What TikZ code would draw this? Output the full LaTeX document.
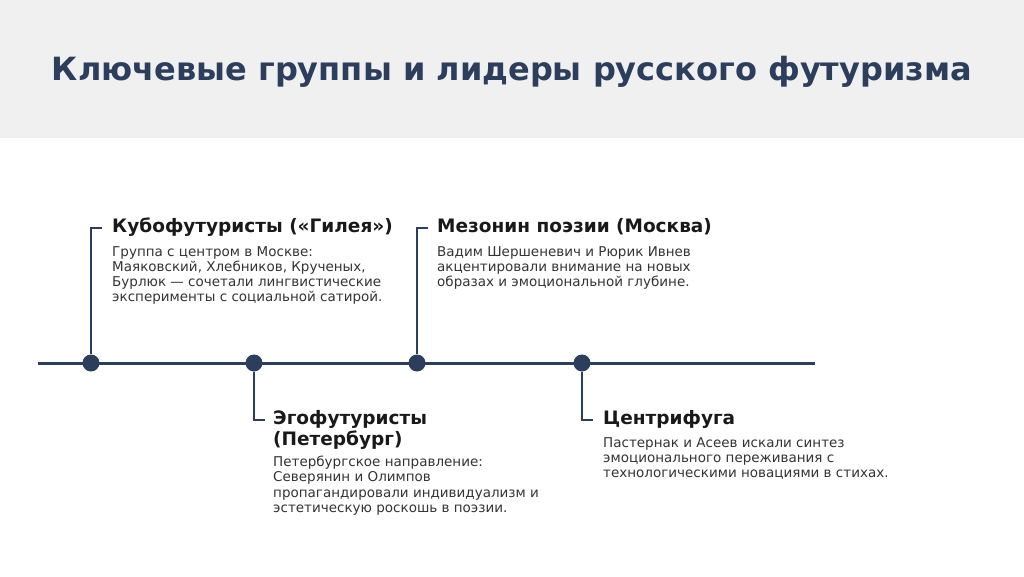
\documentclass[tikz,border=0pt]{standalone}
\usepackage{fontspec}
\setmainfont{DejaVu Sans}
\usepackage{tikz}
\usetikzlibrary{positioning}
\definecolor{navy}{HTML}{2C3E5C}
\definecolor{bandgray}{HTML}{F0F0F0}
\definecolor{bodygray}{HTML}{333333}

\begin{document}
\begin{tikzpicture}[x=1pt, y=-1pt,
    dotnode/.style={circle, fill=navy, minimum size=17pt, inner sep=0pt},
    bracket/.style={draw=navy, line width=1.6pt},
    headtext/.style={anchor=north west, inner sep=0pt, align=left, text=black!90, font=\fontsize{18.5}{21.5}\selectfont\bfseries},
    bodytext/.style={anchor=north west, inner sep=0pt, align=left, text=bodygray, font=\fontsize{13.5}{15.2}\selectfont}]
  \useasboundingbox (0,0) rectangle (1024,576);
  \fill[bandgray] (0,0) rectangle (1024,138);
  \node[font=\fontsize{32}{36}\selectfont\bfseries, text=navy] (title) at (512,72) {Ключевые группы и лидеры русского футуризма};

  % timeline
  \coordinate (tlstart) at (38,363);
  \coordinate (tlend) at (815,363);
  \draw[navy, line width=3pt] (tlstart) -- (tlend);
  \node[dotnode] (d1) at (91,363) {};
  \node[dotnode] (d2) at (254,363) {};
  \node[dotnode] (d3) at (417,363) {};
  \node[dotnode] (d4) at (582,363) {};

  % groups above the line
  \node[headtext] (kubo) at (112,218) {Кубофутуристы («Гилея»)};
  \node[bodytext] (kubotxt) at (112,246) {Группа с центром в Москве:\\Маяковский, Хлебников, Крученых,\\Бурлюк — сочетали лингвистические\\эксперименты с социальной сатирой.};
  \node[headtext] (mezon) at (437,218) {Мезонин поэзии (Москва)};
  \node[bodytext] (mezontxt) at (437,246) {Вадим Шершеневич и Рюрик Ивнев\\акцентировали внимание на новых\\образах и эмоциональной глубине.};

  % groups below the line
  \node[headtext] (ego) at (273,410) {Эгофутуристы\\(Петербург)};
  \node[bodytext] (egotxt) at (273,456) {Петербургское направление:\\Северянин и Олимпов\\пропагандировали индивидуализм и\\эстетическую роскошь в поэзии.};
  \node[headtext] (centr) at (603,410) {Центрифуга};
  \node[bodytext] (centrtxt) at (603,437) {Пастернак и Асеев искали синтез\\эмоционального переживания с\\технологическими новациями в стихах.};

  % brackets
  \coordinate (k1) at (102,228);
  \coordinate (k2) at (265,420);
  \coordinate (k3) at (428,228);
  \coordinate (k4) at (593,420);
  \draw[bracket] (d1) |- (k1);
  \draw[bracket] (d2) |- (k2);
  \draw[bracket] (d3) |- (k3);
  \draw[bracket] (d4) |- (k4);
\end{tikzpicture}
\end{document}
